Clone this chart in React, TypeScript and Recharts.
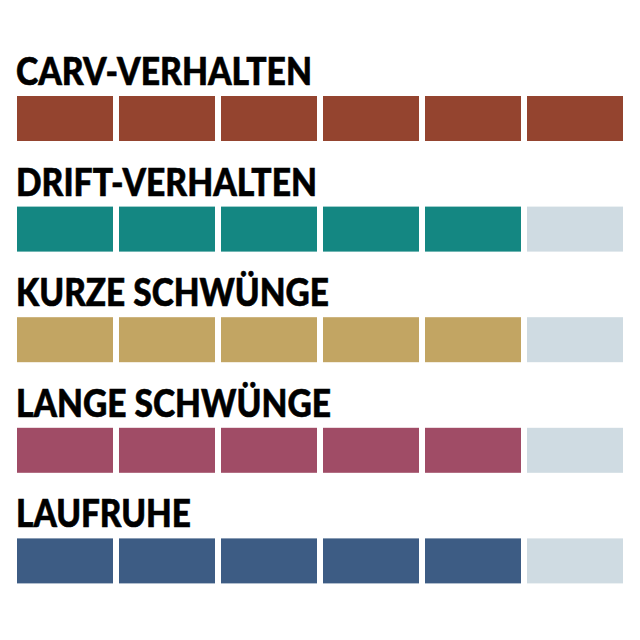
import React from "react";
import { Bar, BarChart, LabelList, XAxis, YAxis } from "recharts";

// ratings out of 6 per category
const categories = [
  "CARV-VERHALTEN",
  "DRIFT-VERHALTEN",
  "KURZE SCHWÜNGE",
  "LANGE SCHWÜNGE",
  "LAUFRUHE",
];
const ratings = [6, 5, 5, 5, 5];
const maxRating = 6;

const colors = ["#94442F", "#148782", "#C2A563", "#A04C66", "#3D5C84"];
const EMPTY = "#CFDBE2";

// label widths in px, to match the condensed headline face
const labelWidth: Record<string, number> = {
  "CARV-VERHALTEN": 296,
  "DRIFT-VERHALTEN": 301,
  "KURZE SCHWÜNGE": 313,
  "LANGE SCHWÜNGE": 315,
  LAUFRUHE: 175,
};

const segments = Array.from({ length: maxRating }, (_, i) => i + 1);

const data = categories.map((name, i) => {
  const row: any = { name, rating: ratings[i] };
  segments.forEach((k) => (row[`s${k}`] = 1));
  return row;
});

const Segment = (k: number) => (p: any) => {
  const fill = p.payload.rating >= k ? colors[p.index] : EMPTY;
  return (
    <rect x={p.x + 3} y={p.y} width={p.width - 6} height={p.height} fill={fill} />
  );
};

const Title = (p: any) => (
  <text
    x={p.x + 2}
    y={p.y - 11}
    fill="#000"
    stroke="#000"
    strokeWidth={0.6}
    fontSize={38}
    fontWeight={900}
    fontFamily="Lato, Roboto, sans-serif"
    textLength={labelWidth[p.value]}
    lengthAdjust="spacingAndGlyphs"
  >
    {p.value}
  </text>
);

export default function App() {
  return (
    <div style={{ position: "absolute", left: 0, top: 0, background: "#fff" }}>
      <BarChart
        layout="vertical"
        width={640}
        height={640}
        data={data}
        margin={{ top: 63, right: 14, bottom: 24, left: 14 }}
      >
        <XAxis type="number" domain={[0, maxRating]} hide />
        <YAxis type="category" dataKey="name" hide />
        {segments.map((k) => (
          <Bar
            key={k}
            dataKey={`s${k}`}
            stackId="a"
            barSize={45}
            isAnimationActive={false}
            shape={Segment(k)}
          >
            {k === 1 && <LabelList dataKey="name" content={Title} />}
          </Bar>
        ))}
      </BarChart>
    </div>
  );
}
